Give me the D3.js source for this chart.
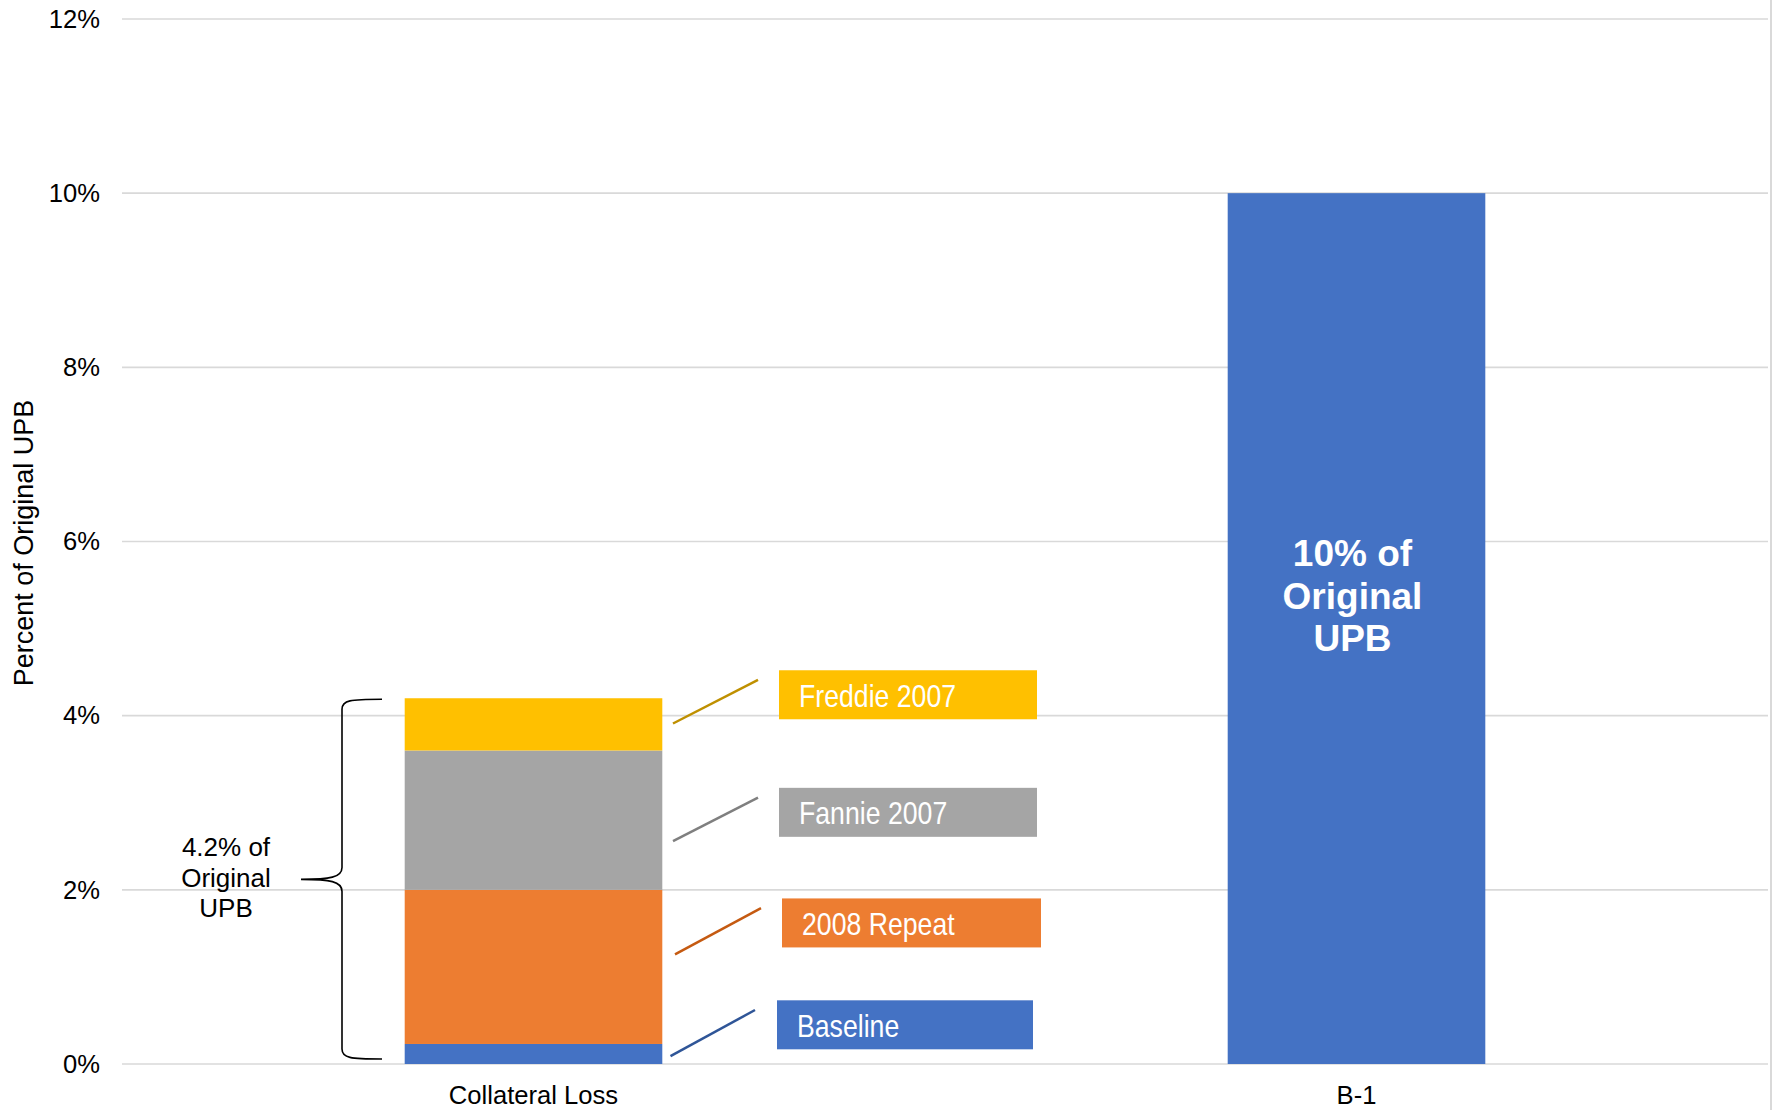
<!DOCTYPE html>
<html>
<head>
<meta charset="utf-8">
<script src="https://cdn.jsdelivr.net/npm/d3@7"></script>
<style>
html,body{margin:0;padding:0;background:#fff;}
svg{display:block;}
</style>
</head>
<body>
<svg id="chart" width="1773" height="1110"></svg>
<script>
// ---- data ----
const categories = ["Collateral Loss", "B-1"];
const segmentNames = ["Baseline", "2008 Repeat", "Fannie 2007", "Freddie 2007"];
const collateralValues = [0.23, 1.77, 1.6, 0.6];
const b1Values = [10];
const segmentColors = ["#4472C4", "#ED7D31", "#A5A5A5", "#FFC000"];
const leaderColors = ["#2F5597", "#C55A11", "#7F7F7F", "#BF9000"];
const yTicks = [0, 2, 4, 6, 8, 10, 12];
const yTickLabels = ["0%", "2%", "4%", "6%", "8%", "10%", "12%"];
const braceText = ["4.2% of", "Original", "UPB"];
const b1Text = ["10% of", "Original", "UPB"];
const yTitle = "Percent of Original UPB";

// ---- layout ----
const svg = d3.select("#chart");
const plotLeft = 122, plotRight = 1768, plotTop = 19, plotBottom = 1064;
const font = "'Liberation Sans', Arial, sans-serif";

const y = d3.scaleLinear().domain([0, 12]).range([plotBottom, plotTop]);
const x = d3.scaleBand().domain(categories).range([plotLeft, plotRight])
  .paddingInner(0.687).paddingOuter(0.3435);

// gridlines
svg.append("g").selectAll("line").data(yTicks).join("line")
  .attr("x1", plotLeft).attr("x2", plotRight)
  .attr("y1", d => y(d)).attr("y2", d => y(d))
  .attr("stroke", "#D9D9D9").attr("stroke-width", 1.6);

// right border
svg.append("line").attr("x1", 1771).attr("x2", 1771).attr("y1", 0).attr("y2", 1110)
  .attr("stroke", "#D9D9D9").attr("stroke-width", 2);

// y axis
const yAxis = d3.axisLeft(y).tickValues(yTicks).tickFormat((d, i) => yTickLabels[i]).tickSize(0).tickPadding(22);
const gy = svg.append("g").attr("transform", `translate(${plotLeft},0)`).call(yAxis);
gy.select(".domain").remove();
gy.selectAll("text").attr("font-family", font).attr("font-size", 25.6).attr("fill", "#000");

// x axis
const xAxis = d3.axisBottom(x).tickSize(0).tickPadding(22);
const gx = svg.append("g").attr("transform", `translate(0,${plotBottom})`).call(xAxis);
gx.select(".domain").remove();
gx.selectAll("text").attr("font-family", font).attr("font-size", 25.6).attr("fill", "#000");

// y title
svg.append("text")
  .attr("transform", `translate(33,543) rotate(-90)`)
  .attr("text-anchor", "middle")
  .attr("font-family", font).attr("font-size", 27).attr("fill", "#000")
  .text(yTitle);

// stacked collateral bar
const stack = [];
let acc = 0;
collateralValues.forEach((v, i) => { stack.push({ name: segmentNames[i], y0: acc, y1: acc + v, color: segmentColors[i], lc: leaderColors[i] }); acc += v; });

const bx = x("Collateral Loss"), bw = x.bandwidth();
svg.append("g").selectAll("rect").data(stack).join("rect")
  .attr("x", bx).attr("width", bw)
  .attr("y", d => y(d.y1)).attr("height", d => y(d.y0) - y(d.y1))
  .attr("fill", d => d.color);

// B-1 bar
svg.append("rect")
  .attr("x", x("B-1")).attr("width", x.bandwidth())
  .attr("y", y(b1Values[0])).attr("height", y(0) - y(b1Values[0]))
  .attr("fill", "#4472C4");

// B-1 text
const b1cx = x("B-1") + x.bandwidth() / 2 - 4;
svg.append("text").attr("text-anchor", "middle")
  .attr("font-family", font).attr("font-weight", "bold").attr("font-size", 37).attr("fill", "#fff")
  .selectAll("tspan").data(b1Text).join("tspan")
  .attr("x", b1cx).attr("y", (d, i) => 566 + i * 42.5).text(d => d);

// annotation label boxes (value-unit positions for box centers and leader ends)
const boxLayout = [
  { cy: 0.45, x0: 777, w: 256, l0: 0.09, l1: 0.62, lx0: 670.5, lx1: 755 },
  { cy: 1.62, x0: 782, w: 259, l0: 1.26, l1: 1.79, lx0: 675, lx1: 761 },
  { cy: 2.89, x0: 779, w: 258, l0: 2.56, l1: 3.06, lx0: 673, lx1: 758 },
  { cy: 4.24, x0: 779, w: 258, l0: 3.91, l1: 4.41, lx0: 673, lx1: 758 }
];
const boxH = 49;
const ann = svg.append("g");
stack.forEach((d, i) => {
  const b = boxLayout[i];
  ann.append("line")
    .attr("x1", b.lx0).attr("y1", y(b.l0)).attr("x2", b.lx1).attr("y2", y(b.l1))
    .attr("stroke", d.lc).attr("stroke-width", 2.5);
  ann.append("rect")
    .attr("x", b.x0).attr("y", y(b.cy) - boxH / 2).attr("width", b.w).attr("height", boxH)
    .attr("fill", d.color);
  ann.append("text")
    .attr("transform", `translate(${b.x0 + 20},${y(b.cy) + 12}) scale(0.86,1)`)
    .attr("font-family", font).attr("font-size", 31).attr("fill", "#fff")
    .text(d.name);
});

// brace
const total = d3.sum(collateralValues);
const yt = y(total) + 1, yb = y(0) - 5, ym = y(2.12);
const bxv = 342, bend = 382, tip = 301;
svg.append("path")
  .attr("d", `M${bend},${yt} C${bxv+8},${yt} ${bxv},${yt+1} ${bxv},${yt+10} L${bxv},${ym-12} C${bxv},${ym-2} ${bxv-12},${ym} ${tip},${ym} C${bxv-12},${ym} ${bxv},${ym+2} ${bxv},${ym+12} L${bxv},${yb-10} C${bxv},${yb-1} ${bxv+8},${yb} ${bend},${yb}`)
  .attr("fill", "none").attr("stroke", "#000").attr("stroke-width", 1.6);

svg.append("text").attr("text-anchor", "middle")
  .attr("font-family", font).attr("font-size", 26).attr("fill", "#000")
  .selectAll("tspan").data(braceText).join("tspan")
  .attr("x", 226).attr("y", (d, i) => 856 + i * 30.5).text(d => d);
</script>
</body>
</html>
